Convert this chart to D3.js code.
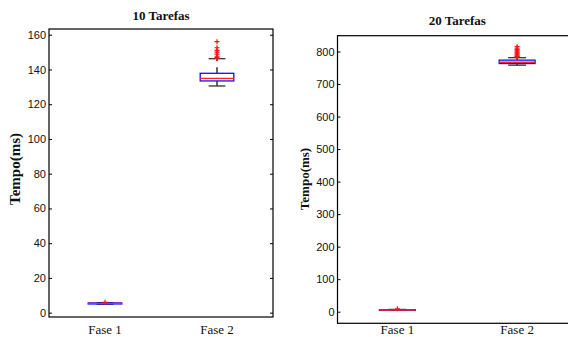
<!DOCTYPE html>
<html>
<head>
<meta charset="utf-8">
<script src="https://cdn.jsdelivr.net/npm/d3@7"></script>
<style>
  html, body { margin: 0; padding: 0; background: #fff; }
  svg { display: block; }
  .tick text { font-family: "Liberation Sans", Arial, sans-serif; font-size: 11px; fill: #111; }
</style>
</head>
<body>
<svg id="chart" width="568" height="337"></svg>
<script>
// Categories shared by both panels
const categories = ["Fase 1", "Fase 2"];

// 10 tarefas: box-plot statistics per phase (ms)
const t10Lower   = [4.9, 130.5];
const t10Q1      = [5.0, 133.4];
const t10Median  = [5.3, 134.9];
const t10Q3      = [5.6, 137.8];
const t10Upper   = [5.8, 146.2];
const t10Outliers = [[6.0], [156, 152.5, 151, 150, 148.8, 147.6, 146.8, 146.4]];
const t10Ticks   = [0, 20, 40, 60, 80, 100, 120, 140, 160];

// 20 tarefas: box-plot statistics per phase (ms)
const t20Lower   = [4.0, 758];
const t20Q1      = [4.5, 763];
const t20Median  = [5.2, 767];
const t20Q3      = [6.0, 773.5];
const t20Upper   = [7.0, 781];
const t20Outliers = [[9], [815, 810, 806, 802, 798, 795, 792, 789, 786, 784]];
const t20Ticks   = [0, 100, 200, 300, 400, 500, 600, 700, 800];

const svg = d3.select("#chart");

function drawPanel(opt) {
  const x = d3.scaleLinear().domain([0.5, 2.5]).range([opt.left, opt.right]);
  const y = d3.scaleLinear().domain(opt.yDomain).range([opt.bottom, opt.top]);
  const g = svg.append("g");

  // left axis with inward ticks
  const ax = g.append("g").attr("transform", `translate(${opt.left},0)`)
    .call(d3.axisLeft(y).tickValues(opt.ticks).tickSizeInner(-3).tickSizeOuter(0).tickPadding(3));
  ax.select(".domain").remove();
  ax.selectAll(".tick line").attr("stroke", "#000");

  // mirrored ticks on the right edge
  const axr = g.append("g").attr("transform", `translate(${opt.right},0)`)
    .call(d3.axisRight(y).tickValues(opt.ticks).tickSizeInner(-3).tickSizeOuter(0).tickFormat(""));
  axr.select(".domain").remove();
  axr.selectAll(".tick line").attr("stroke", "#000");

  // frame
  g.append("rect")
    .attr("x", opt.left).attr("y", opt.top)
    .attr("width", opt.right - opt.left).attr("height", opt.bottom - opt.top)
    .attr("fill", "none").attr("stroke", "#000").attr("stroke-width", 1.2);

  const boxW = x(1.15) - x(0.85);
  const capW = boxW / 2;

  categories.forEach((c, i) => {
    const cx = x(i + 1);
    const bg = g.append("g");
    // whiskers (dashed)
    bg.append("line").attr("x1", cx).attr("x2", cx)
      .attr("y1", y(opt.q3[i])).attr("y2", y(opt.upper[i]))
      .attr("stroke", "#000").attr("stroke-width", 1.2).attr("stroke-dasharray", "6,6");
    bg.append("line").attr("x1", cx).attr("x2", cx)
      .attr("y1", y(opt.q1[i])).attr("y2", y(opt.lower[i]))
      .attr("stroke", "#000").attr("stroke-width", 1.2).attr("stroke-dasharray", "6,6");
    // caps
    [opt.upper[i], opt.lower[i]].forEach(v => {
      bg.append("line").attr("x1", cx - capW / 2).attr("x2", cx + capW / 2)
        .attr("y1", y(v)).attr("y2", y(v))
        .attr("stroke", "#333").attr("stroke-width", 1.3);
    });
    // box
    bg.append("rect")
      .attr("x", cx - boxW / 2).attr("width", boxW)
      .attr("y", y(opt.q3[i])).attr("height", Math.max(0.5, y(opt.q1[i]) - y(opt.q3[i])))
      .attr("fill", "none").attr("stroke", "#1010ff").attr("stroke-width", 1.3);
    // median
    bg.append("line").attr("x1", cx - boxW / 2).attr("x2", cx + boxW / 2)
      .attr("y1", y(opt.median[i])).attr("y2", y(opt.median[i]))
      .attr("stroke", "#ff2020").attr("stroke-width", 1.3);
    // outliers
    opt.outliers[i].forEach(v => {
      const py = y(v), s = 2.5;
      bg.append("path")
        .attr("d", `M${cx - s},${py}H${cx + s}M${cx},${py - s}V${py + s}`)
        .attr("stroke", "#ff1010").attr("stroke-width", 1.2).attr("fill", "none");
    });
  });

  // category labels
  categories.forEach((c, i) => {
    g.append("text").attr("x", x(i + 1)).attr("y", opt.xLabelY)
      .attr("text-anchor", "middle")
      .style("font-family", "'Liberation Serif', 'Times New Roman', serif")
      .style("font-size", "13px").attr("fill", "#111").text(c);
  });

  // title
  g.append("text").attr("x", (opt.left + opt.right) / 2).attr("y", opt.titleY)
    .attr("text-anchor", "middle")
    .style("font-family", "'Liberation Serif', 'Times New Roman', serif")
    .style("font-weight", "bold").style("font-size", "13px").attr("fill", "#111")
    .text(opt.title);

  // y-axis label
  g.append("text")
    .attr("transform", `translate(${opt.yLabelX},${opt.yLabelY}) rotate(-90)`)
    .attr("text-anchor", "middle").attr("dy", "0.35em")
    .style("font-family", "'Liberation Serif', 'Times New Roman', serif")
    .style("font-weight", "bold").style("font-size", opt.yLabelSize).attr("fill", "#111")
    .text("Tempo(ms)");
}

drawPanel({
  left: 49, right: 273, top: 29, bottom: 317,
  yDomain: [-2.5, 163.3], ticks: t10Ticks,
  lower: t10Lower, q1: t10Q1, median: t10Median, q3: t10Q3, upper: t10Upper, outliers: t10Outliers,
  title: "10 Tarefas", titleY: 20, xLabelY: 334,
  yLabelX: 15, yLabelY: 169, yLabelSize: "15px"
});

drawPanel({
  left: 337.5, right: 577, top: 35.7, bottom: 323.3,
  yDomain: [-35.7, 848.6], ticks: t20Ticks,
  lower: t20Lower, q1: t20Q1, median: t20Median, q3: t20Q3, upper: t20Upper, outliers: t20Outliers,
  title: "20 Tarefas", titleY: 25, xLabelY: 333.5,
  yLabelX: 304, yLabelY: 179, yLabelSize: "13px"
});
</script>
</body>
</html>
